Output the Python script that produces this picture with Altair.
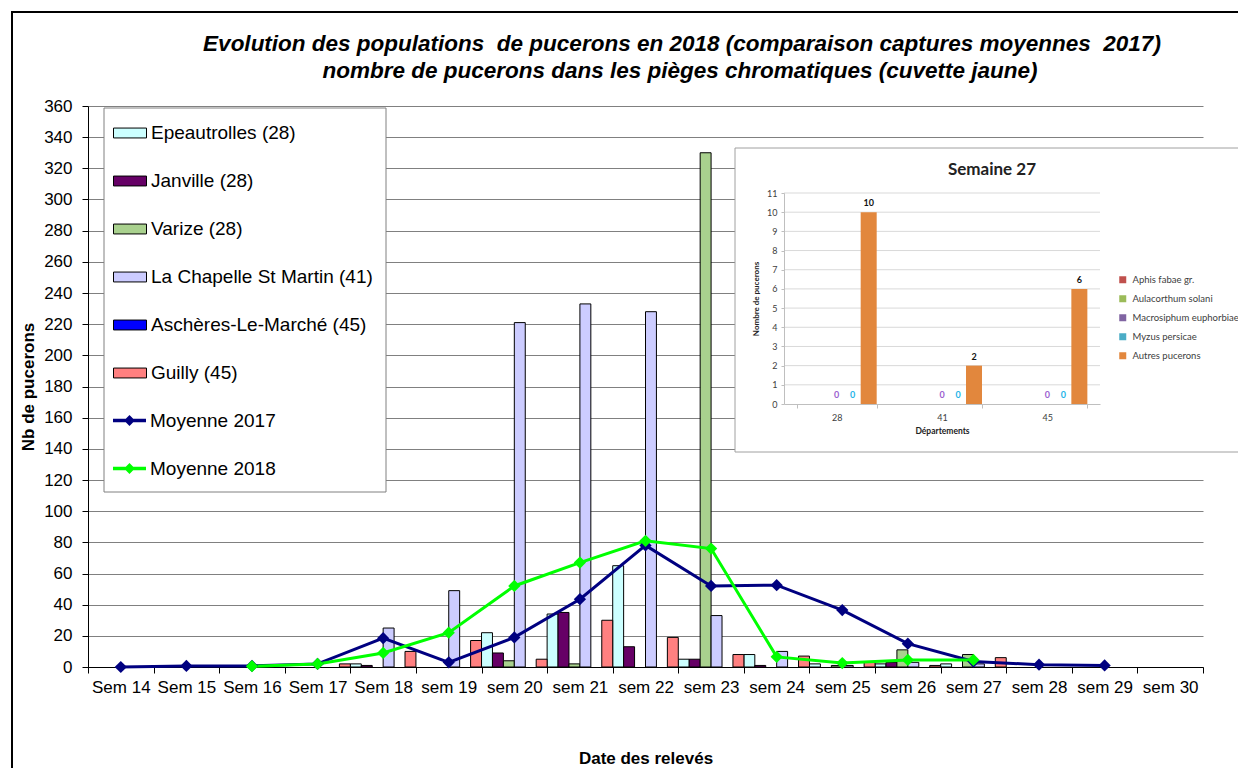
import altair as alt
import pandas as pd

FONT = "Liberation Sans"
IFONT = "Lato"

# ---------------- titles ----------------
title_lines = ["Evolution des populations\u00a0 de pucerons en 2018 (comparaison captures moyennes\u00a0 2017)",
               "nombre de pucerons dans les pièges chromatiques (cuvette jaune)"]

# ---------------- main chart data ----------------
weeks = ["Sem 14", "Sem 15", "Sem 16", "Sem 17", "Sem 18", "sem 19", "sem 20", "sem 21",
         "sem 22", "sem 23", "sem 24", "sem 25", "sem 26", "sem 27", "sem 28", "sem 29", "sem 30"]

sites = ["Epeautrolles (28)", "Janville (28)", "Varize (28)", "La Chapelle St Martin (41)",
         "Aschères-Le-Marché (45)", "Guilly (45)"]
site_colors = ["#CCFFFF", "#660066", "#A9D18E", "#CCCCFF", "#0000FF", "#FF8080"]

N = None
epeautrolles = [N, N, N, N, 2, N, 22, 34, 65, 5, 8, 2, 2, 2, N, N, N]
janville     = [N, N, N, N, 1, N, 9, 35, 13, 5, 1, N, 3, N, N, N, N]
varize       = [N, N, N, N, N, N, 4, 2, N, 330, N, 1, 11, 8, N, N, N]
la_chapelle  = [N, N, N, N, 25, 49, 221, 233, 228, 33, 10, 1, 3, 2, N, N, N]
ascheres     = [N, N, N, N, N, N, N, N, N, N, N, N, N, N, N, N, N]
guilly       = [N, N, N, 2, 10, 17, 5, 30, 19, 8, 7, 3, 1, 6, N, N, N]

series = ["Moyenne 2017", "Moyenne 2018"]
series_colors = ["#000080", "#00FF00"]
moyenne_2017 = [0, 0.7, 0.7, 2, 18.5, 3, 19, 43.5, 78, 52, 52.5, 36.5, 15, 3.5, 1.5, 1, N]
moyenne_2018 = [N, N, 0.5, 2, 9, 22, 52, 67, 81, 76, 6.5, 2.5, 4.5, 4.5, N, N, N]

# ---------------- inset data ----------------
depts = ["28", "41", "45"]
species = ["Aphis fabae gr.", "Aulacorthum solani", "Macrosiphum euphorbiae",
           "Myzus persicae", "Autres pucerons"]
species_colors = ["#C0504D", "#9BBB59", "#8064A2", "#4BACC6", "#E2873D"]
aphis = [0, 0, 0]
aulacorthum = [0, 0, 0]
macrosiphum = [0, 0, 0]
myzus = [0, 0, 0]
autres = [10, 2, 6]
label_shown = [False, False, True, True, True]
label_colors = ["#C0504D", "#9BBB59", "#9B5FD0", "#1FB4E8", "#111111"]
inset_ticks = list(range(0, 12))

# ---------------- tables ----------------
rows = []
for s, vals in zip(sites, [epeautrolles, janville, varize, la_chapelle, ascheres, guilly]):
    for w, v in zip(weeks, vals):
        if v is not None:
            rows.append({"week": w, "site": s, "value": v})
bar_df = pd.DataFrame(rows)

lrows = []
for s, vals in zip(series, [moyenne_2017, moyenne_2018]):
    for i, (w, v) in enumerate(zip(weeks, vals)):
        if v is not None:
            lrows.append({"week": w, "serie": s, "value": v, "idx": i})
line_df = pd.DataFrame(lrows)

irows = []
for sp, vals, show, tc in zip(species, [aphis, aulacorthum, macrosiphum, myzus, autres],
                              label_shown, label_colors):
    for d, v in zip(depts, vals):
        irows.append({"dept": d, "species": sp, "value": v,
                      "label": str(v) if show else "", "tc": tc})
inset_df = pd.DataFrame(irows)
grid_df = pd.DataFrame({"value": inset_ticks[1:]})

W, H = 1115, 561

# ---------------- main layer ----------------
main_x = alt.X("week:N", sort=weeks,
               scale=alt.Scale(domain=weeks, paddingInner=0, paddingOuter=0),
               axis=alt.Axis(title="Date des relevés", labelAngle=0, labelFont=FONT,
                             labelFontSize=17, labelColor="black", labelPadding=6,
                             labelOverlap=False, labelLimit=200, tickBand="extent",
                             tickColor="black", tickSize=6, domainColor="black",
                             titleFont=FONT, titleFontSize=17, titleFontWeight="bold",
                             titleColor="black", titlePadding=55, grid=False))
main_y = alt.Y("value:Q", scale=alt.Scale(domain=[0, 360], nice=False),
               axis=alt.Axis(title="Nb de pucerons", values=list(range(0, 361, 20)),
                             grid=True, gridColor="#808080", gridWidth=1,
                             labelFont=FONT, labelFontSize=17, labelColor="black",
                             labelPadding=10, tickColor="black", tickSize=6,
                             domainColor="black", titleFont=FONT, titleFontSize=17,
                             titleFontWeight="bold", titleColor="black", titlePadding=6))

bars = alt.Chart(bar_df).mark_bar(stroke="black", strokeWidth=1).encode(
    x=main_x,
    xOffset=alt.XOffset("site:N", sort=sites,
                        scale=alt.Scale(domain=sites, paddingInner=0, paddingOuter=0)),
    y=main_y,
    color=alt.Color("site:N", scale=alt.Scale(domain=sites, range=site_colors),
                    legend=alt.Legend(orient="none", legendX=25, legendY=10, title=None,
                                      symbolType="M-1,-0.3H1V0.3H-1Z", symbolSize=1089,
                                      symbolStrokeColor="black", symbolStrokeWidth=1,
                                      labelFont=FONT, labelFontSize=19, labelColor="black",
                                      labelOffset=4, rowPadding=21, padding=0,
                                      labelLimit=400)),
)

lines = alt.Chart(line_df).mark_line(strokeWidth=3).encode(
    x=main_x, y=main_y, order=alt.Order("idx:Q"),
    color=alt.Color("serie:N", scale=alt.Scale(domain=series, range=series_colors),
                    legend=None),
)

points = alt.Chart(line_df).mark_point(filled=True, shape="diamond", size=150, opacity=1).encode(
    x=main_x, y=main_y,
    color=alt.Color("serie:N", scale=alt.Scale(domain=series, range=series_colors),
                    legend=alt.Legend(orient="none", legendX=25, legendY=298, title=None,
                                      symbolType="M-1,-0.1H1V0.1H-1Z M-0.33,0L0,-0.33L0.33,0L0,0.33Z",
                                      symbolSize=1089, symbolStrokeWidth=0, symbolOpacity=1,
                                      labelFont=FONT, labelFontSize=19, labelColor="black",
                                      labelOffset=4, rowPadding=21, padding=0,
                                      labelLimit=400)),
)

main = alt.layer(bars, lines, points).resolve_scale(color="independent")

# ---------------- inset layer ----------------
ix = alt.X("dept:N", sort=depts,
           scale=alt.Scale(domain=depts, range=[696, 1012], paddingInner=0.24, paddingOuter=0.12),
           axis=alt.Axis(orient="bottom", offset=-263, zindex=2, labelAngle=0,
                         tickBand="extent", tickSize=4, tickColor="#BFBFBF",
                         domainColor="#BFBFBF", labelFont=IFONT, labelFontSize=9,
                         labelColor="#404040", labelPadding=5, title="Départements",
                         titleFont=IFONT, titleFontSize=8.5, titleFontWeight="bold",
                         titleColor="#222222", titlePadding=4, grid=False))
iy_scale = alt.Scale(domain=[0, 11], range=[298, 87], nice=False)
iy = alt.Y("value:Q", scale=iy_scale,
           axis=alt.Axis(orient="left", offset=-696, zindex=2, values=inset_ticks,
                         grid=False, tickSize=3, tickColor="#BFBFBF", domainColor="#BFBFBF",
                         labelFont=IFONT, labelFontSize=9, labelColor="#404040",
                         labelPadding=4, title="Nombre de pucerons", titleFont=IFONT,
                         titleFontSize=8, titleFontWeight="bold", titleColor="#222222",
                         titlePadding=6))
ixo = alt.XOffset("species:N", sort=species,
                  scale=alt.Scale(domain=species, paddingInner=0, paddingOuter=0))

inset_grid = alt.Chart(grid_df).mark_rule(color="#D9D9D9", strokeWidth=1).encode(
    y=iy, x=alt.value(696), x2=alt.value(1012),
)
inset_bars = alt.Chart(inset_df).mark_bar().encode(
    x=ix, xOffset=ixo, y=iy,
    color=alt.Color("species:N", scale=alt.Scale(domain=species, range=species_colors),
                    legend=alt.Legend(orient="none", legendX=1030, legendY=169, title=None,
                                      symbolType="square", symbolSize=49,
                                      symbolStrokeWidth=0, labelFont=IFONT,
                                      labelFontSize=9.5, labelColor="#404040",
                                      labelOffset=5, rowPadding=8, padding=0,
                                      labelLimit=300)),
)
inset_text = alt.Chart(inset_df).mark_text(font=IFONT, fontSize=9, fontWeight="bold",
                                           baseline="bottom", dy=-4).encode(
    x=ix, xOffset=ixo, y=iy, text="label:N",
    fill=alt.Fill("tc:N", scale=None),
)
inset = alt.layer(inset_grid, inset_bars, inset_text)

# ---------------- decorations ----------------
one = pd.DataFrame({"a": [0]})
frame = alt.Chart(one).mark_rect(
    filled=False, stroke="black", strokeWidth=2).encode(
    x=alt.value(-76), x2=alt.value(1175), y=alt.value(-94), y2=alt.value(690))
legend_box = alt.Chart(one).mark_rect(
    fill="white", stroke="#808080", strokeWidth=1).encode(
    x=alt.value(16), x2=alt.value(298), y=alt.value(2), y2=alt.value(386))
inset_bg = alt.Chart(one).mark_rect(
    fill="white", stroke="#A0A0A0", strokeWidth=1).encode(
    x=alt.value(647), x2=alt.value(1170), y=alt.value(42), y2=alt.value(346))
inset_title = alt.Chart(one).mark_text(
    text="Semaine 27", font=IFONT, fontSize=17, fontWeight="bold", color="#222222",
    align="center", baseline="middle").encode(x=alt.value(904), y=alt.value(64))
title1 = alt.Chart(one).mark_text(
    text=title_lines[0], font=FONT, fontSize=22.5, fontStyle="italic", fontWeight="bold",
    color="black", align="center", baseline="middle").encode(x=alt.value(594), y=alt.value(-62))
title2 = alt.Chart(one).mark_text(
    text=title_lines[1], font=FONT, fontSize=22.5, fontStyle="italic", fontWeight="bold",
    color="black", align="center", baseline="middle").encode(x=alt.value(592), y=alt.value(-35))

chart = alt.layer(frame, title1, title2, legend_box, main, inset_bg, inset, inset_title).resolve_scale(
    x="independent", y="independent", color="independent", xOffset="independent"
).properties(
    width=W, height=H,
    autosize=alt.AutoSizeParams(type="none"),
    padding={"left": 80, "top": 98, "right": 35, "bottom": 101},
).configure_view(stroke=None)

chart.save("out.html", embed_options={"renderer": "svg", "actions": False})
